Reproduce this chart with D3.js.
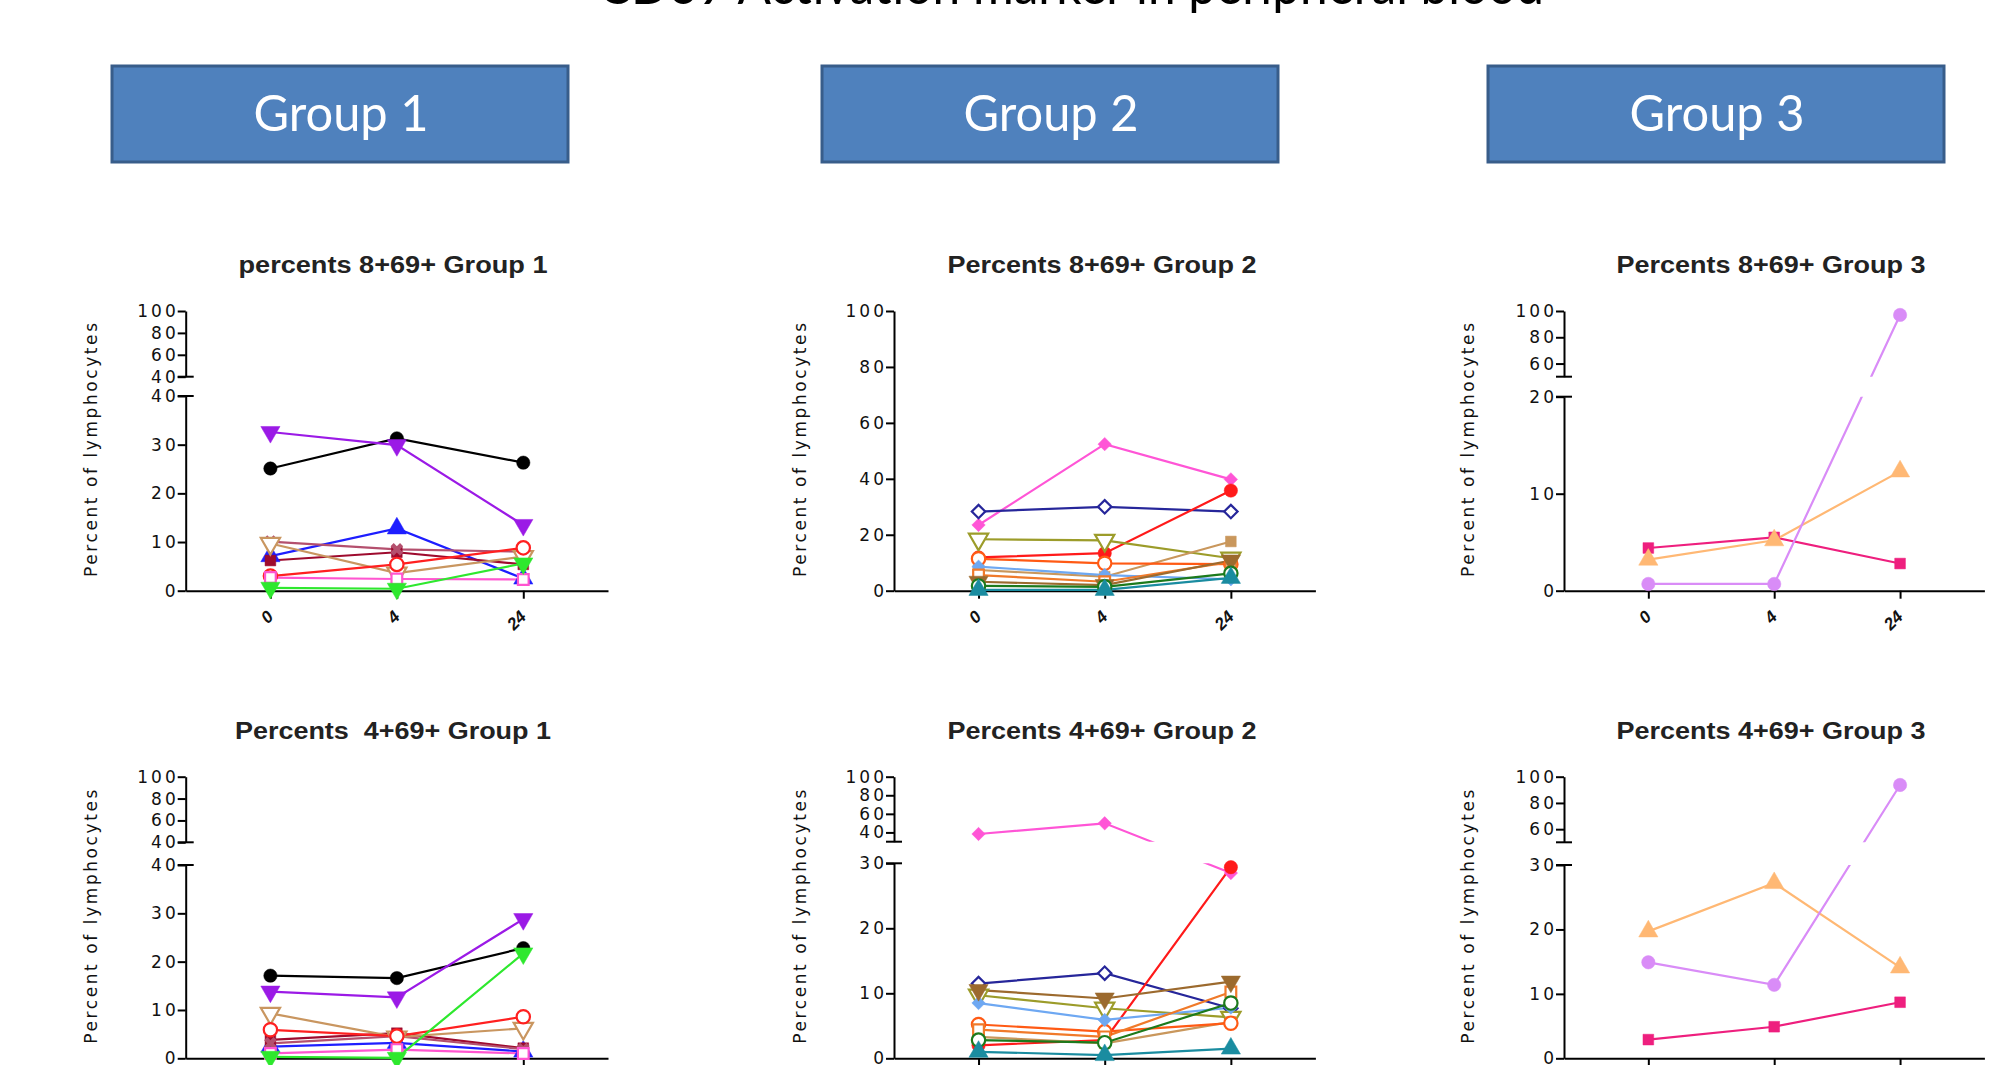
<!DOCTYPE html>
<html><head><meta charset="utf-8">
<script src="https://cdn.jsdelivr.net/npm/d3@7"></script>
<style>body{margin:0;background:#fff;overflow:hidden} svg{display:block}</style>
</head><body><svg id="c" width="1989" height="1065"></svg>
<script>
// ---------------- DATA ----------------
const mainTitle = "CD69 Activation marker in peripheral blood";
const groupNames = ["Group 1", "Group 2", "Group 3"];
const panelTitles = [
  ["percents 8+69+ Group 1", "Percents 8+69+ Group 2", "Percents 8+69+ Group 3"],
  ["Percents  4+69+ Group 1", "Percents 4+69+ Group 2", "Percents 4+69+ Group 3"]
];
const yLabel = "Percent of lymphocytes";
const timepoints = ["0", "4", "24"];

const g1Series = ["black", "purple", "blue", "maroon", "rose", "tan", "red", "pink", "green"];
const g2Series = ["magenta", "navy", "red", "olive", "tan", "orangeRed", "cornflower", "orange", "brown", "green", "teal"];
const g3Series = ["pinkSq", "orangeTri", "violet"];

// CD8+CD69+ (top row)
const cd8G1 = [
  [25.1, 31.3, 26.3], [32.6, 29.9, 13.5], [7.1, 12.8, 2.5], [6.2, 7.9, 5.4], [10.1, 8.5, 8.0],
  [9.7, 3.6, 7.0], [3.0, 5.4, 8.8], [2.7, 2.4, 2.3], [0.6, 0.4, 5.6]
];
const cd8G2 = [
  [23.5, 52.4, 39.8], [28.3, 30.0, 28.3], [11.9, 13.4, 35.8], [18.4, 18.0, 11.6], [7.4, 5.0, 17.6],
  [11.4, 9.8, 9.5], [8.6, 5.6, 4.1], [5.6, 3.2, 10.3], [3.2, 2.0, 10.8], [1.7, 1.4, 6.2], [0.3, 0.3, 4.6]
];
const cd8G3 = [[4.4, 5.5, 2.8], [3.2, 5.2, 12.3], [0.7, 0.7, 97]];

// CD4+CD69+ (bottom row)
const cd4G1 = [
  [17.1, 16.6, 22.8], [13.8, 12.6, 28.8], [2.4, 3.2, 1.4], [3.8, 5.2, 2.1], [3.1, 4.6, 1.9],
  [9.3, 4.4, 6.2], [5.9, 4.6, 8.6], [1.0, 1.8, 1.0], [0.3, 0.1, 21.7]
];
const cd4G2 = [
  [38.3, 49.8, 28.5], [11.5, 13.1, 7.7], [2.0, 2.8, 29.4], [9.7, 7.7, 6.3], [3.3, 2.3, 5.6],
  [5.2, 4.1, 5.4], [8.5, 5.9, 7.8], [4.4, 3.3, 10.2], [10.5, 9.2, 11.8], [2.8, 2.4, 8.5], [1.0, 0.5, 1.5]
];
const cd4G3 = [[2.9, 4.9, 8.7], [19.7, 27.2, 14.1], [14.9, 11.4, 93.7]];

// axis domains (broken axes: lower and upper segments) and tick values
const p1Lower = [0, 40], p1Upper = [40, 100], p1LoTicks = [0, 10, 20, 30, 40], p1UpTicks = [40, 60, 80, 100];
const p2Lower = [0, 100], p2LoTicks = [0, 20, 40, 60, 80, 100];
const p3Lower = [0, 20], p3Upper = [50, 100], p3LoTicks = [0, 10, 20], p3UpTicks = [60, 80, 100];
const p4Lower = [0, 40], p4Upper = [40, 100], p4LoTicks = [0, 10, 20, 30, 40], p4UpTicks = [40, 60, 80, 100];
const p5Lower = [0, 30], p5Upper = [30, 100], p5LoTicks = [0, 10, 20, 30], p5UpTicks = [40, 60, 80, 100];
const p6Lower = [0, 30], p6Upper = [50, 100], p6LoTicks = [0, 10, 20, 30], p6UpTicks = [60, 80, 100];

// ---------------- STYLES ----------------
const seriesStyle = {
  black: {c: "#000000", m: "circle", open: false},
  purple: {c: "#9b1ae6", m: "triDown", open: false},
  blue: {c: "#1e1eff", m: "triUp", open: false},
  maroon: {c: "#9e0b2e", m: "square", open: false},
  rose: {c: "#b4506e", m: "cross", open: false},
  tan: {c: "#c99660", m: "triDown", open: true},
  red: {c: "#ff2020", m: "circle", open: true},
  pink: {c: "#ff55d0", m: "square", open: true},
  green: {c: "#2ee82e", m: "triDown", open: false},
  magenta: {c: "#ff55d6", m: "diamond", open: false},
  navy: {c: "#26269a", m: "diamond", open: true},
  red2: {c: "#ff1a1a", m: "circle", open: false},
  olive: {c: "#9c9c2a", m: "triDown", open: true},
  tan2: {c: "#c9975c", m: "square", open: false},
  orangeRed: {c: "#ff5a14", m: "circle", open: true},
  cornflower: {c: "#6ea8f2", m: "diamond", open: false},
  orange: {c: "#f07a2a", m: "square", open: true},
  brown: {c: "#9c6a2e", m: "triDown", open: false},
  green2: {c: "#1c7a1c", m: "circle", open: true},
  teal: {c: "#1a8ca0", m: "triUp", open: false},
  pinkSq: {c: "#ee1f7e", m: "square", open: false},
  orangeTri: {c: "#ffb874", m: "triUp", open: false},
  violet: {c: "#d98cf7", m: "circle", open: false}
};
function styleFor(group, name) {
  if (group === 2 && ["red", "tan", "green"].includes(name)) return seriesStyle[name + "2"];
  return seriesStyle[name];
}

// ---------------- LAYOUT ----------------
const W = 1989, H = 1065;
const colX = [185.7, 894, 1564];
const colEnd = [608, 1315.4, 1984.4];
const rowY0 = [590.7, 1058.3];
const rowTop = [311, 776.7];
const labelX = [97, 806, 1474];
const labelY = [450, 916.7];
const titleX = [393, 1102, 1771];
const titleY = [273, 739];
const titleW = [[309, 309, 309], [316, 309, 309]];

const panels = [
  {r: 0, c: 0, g: 1, data: cd8G1, series: g1Series, lower: p1Lower, upper: p1Upper, loTicks: p1LoTicks, upTicks: p1UpTicks, upBot: 376.7, loTop: 396},
  {r: 0, c: 1, g: 2, data: cd8G2, series: g2Series, lower: p2Lower, upper: null, loTicks: p2LoTicks, upTicks: null, upBot: null, loTop: 311},
  {r: 0, c: 2, g: 3, data: cd8G3, series: g3Series, lower: p3Lower, upper: p3Upper, loTicks: p3LoTicks, upTicks: p3UpTicks, upBot: 376.7, loTop: 396.7},
  {r: 1, c: 0, g: 1, data: cd4G1, series: g1Series, lower: p4Lower, upper: p4Upper, loTicks: p4LoTicks, upTicks: p4UpTicks, upBot: 842.3, loTop: 865},
  {r: 1, c: 1, g: 2, data: cd4G2, series: g2Series, lower: p5Lower, upper: p5Upper, loTicks: p5LoTicks, upTicks: p5UpTicks, upBot: 841.7, loTop: 863.3},
  {r: 1, c: 2, g: 3, data: cd4G3, series: g3Series, lower: p6Lower, upper: p6Upper, loTicks: p6LoTicks, upTicks: p6UpTicks, upBot: 842.3, loTop: 865}
];

const svg = d3.select("#c");
svg.append("rect").attr("width", W).attr("height", H).attr("fill", "#fff");

// main title (cropped at top in the reference)
svg.append("text")
  .attr("x", 1071).attr("y", 4)
  .attr("text-anchor", "middle")
  .attr("textLength", 946).attr("lengthAdjust", "spacingAndGlyphs")
  .style("font-family", "Lato, 'Open Sans', sans-serif")
  .style("font-size", "54px").attr("fill", "#000")
  .text(mainTitle);

// group header boxes
const boxX = [112, 822, 1488];
groupNames.forEach((name, i) => {
  svg.append("rect")
    .attr("x", boxX[i]).attr("y", 66).attr("width", 456).attr("height", 96)
    .attr("fill", "#4f81bd").attr("stroke", "#385d8a").attr("stroke-width", 3);
  svg.append("text")
    .attr("x", boxX[i] + 229).attr("y", 131)
    .attr("text-anchor", "middle")
    .attr("textLength", 175).attr("lengthAdjust", "spacingAndGlyphs")
    .style("font-family", "Lato, 'Open Sans', sans-serif")
    .style("font-size", "50px").attr("fill", "#ffffff")
    .text(name);
});

function symbolPath(m) {
  const sizes = {circle: 140, square: 115, triUp: 160, triDown: 160, diamond: 90, cross: 100};
  const types = {circle: d3.symbolCircle, square: d3.symbolSquare, triUp: d3.symbolTriangle, triDown: d3.symbolTriangle, diamond: d3.symbolSquare, cross: d3.symbolCross};
  return d3.symbol().type(types[m]).size(sizes[m])();
}
function symbolRot(m) { return m === "triDown" ? 180 : (m === "diamond" ? 45 : (m === "cross" ? 45 : 0)); }

function styleAxis(sel) {
  sel.select(".domain").attr("stroke", "#000").attr("stroke-width", 2);
  sel.selectAll(".tick line").attr("stroke", "#000").attr("stroke-width", 2);
  sel.selectAll(".tick text")
    .style("font-family", "'DejaVu Sans', sans-serif")
    .style("font-size", "17px").style("letter-spacing", "3px").attr("fill", "#111");
}

panels.forEach((p, pi) => {
  const g = svg.append("g");
  const x0 = colX[p.c], x1 = colEnd[p.c];
  const y0 = rowY0[p.r], yTop = rowTop[p.r];
  const x = d3.scalePoint().domain(timepoints).range([x0, x1]).padding(0.67);
  const lo = d3.scaleLinear().domain(p.lower).range([y0, p.loTop]);
  const up = p.upper ? d3.scaleLinear().domain(p.upper).range([p.upBot, yTop]) : null;
  const y = v => (up && v > p.lower[1]) ? up(v) : lo(v);

  // title
  g.append("text")
    .attr("x", titleX[p.c]).attr("y", titleY[p.r])
    .attr("text-anchor", "middle")
    .attr("textLength", titleW[p.r][p.c]).attr("lengthAdjust", "spacingAndGlyphs")
    .style("font-family", "'Liberation Sans', Arial, sans-serif")
    .style("font-weight", "bold").style("font-size", "23px")
    .style("white-space", "pre")
    .attr("fill", "#222")
    .text(panelTitles[p.r][p.c]);

  // y label
  g.append("text")
    .attr("transform", `translate(${labelX[p.c]},${labelY[p.r]}) rotate(-90)`)
    .attr("text-anchor", "middle")
    .attr("textLength", 254).attr("lengthAdjust", "spacing")
    .style("font-family", "'DejaVu Sans', sans-serif")
    .style("font-size", "17px").attr("fill", "#111")
    .text(yLabel);

  // y axes
  const ay = g.append("g").attr("transform", `translate(${x0},0)`)
    .call(d3.axisLeft(lo).tickValues(p.loTicks).tickSize(8).tickSizeOuter(0).tickPadding(-1).tickFormat(d3.format("d")));
  styleAxis(ay);
  if (up) {
    const au = g.append("g").attr("transform", `translate(${x0},0)`)
      .call(d3.axisLeft(up).tickValues(p.upTicks).tickSize(8).tickSizeOuter(0).tickPadding(-1).tickFormat(d3.format("d")));
    styleAxis(au);
    [p.upBot, p.loTop].forEach(yy => {
      g.append("line").attr("x1", x0 - 8).attr("x2", x0 + 8).attr("y1", yy).attr("y2", yy)
        .attr("stroke", "#000").attr("stroke-width", 2);
    });
  }

  // x axis
  const ax = g.append("g").attr("transform", `translate(0,${y0})`)
    .call(d3.axisBottom(x).tickSize(8).tickSizeOuter(0).tickFormat(""));
  styleAxis(ax);
  if (p.r === 0) {
    timepoints.forEach(t => {
      g.append("text")
        .attr("transform", `translate(${x(t) + 4},${y0 + 27}) rotate(-45)`)
        .attr("text-anchor", "end")
        .style("font-family", "'Liberation Sans', Arial, sans-serif")
        .style("font-weight", "bold").style("font-style", "italic").style("font-size", "17px")
        .attr("fill", "#111")
        .text(t);
    });
  }

  // clip (broken axis gap)
  const cid = "clip" + pi;
  const cp = svg.append("clipPath").attr("id", cid);
  if (up) {
    cp.append("rect").attr("x", x0).attr("y", yTop - 20).attr("width", x1 - x0 + 20).attr("height", p.upBot - yTop + 20);
    cp.append("rect").attr("x", x0).attr("y", p.loTop).attr("width", x1 - x0 + 20).attr("height", y0 - p.loTop + 6);
  } else {
    cp.append("rect").attr("x", x0).attr("y", yTop - 20).attr("width", x1 - x0 + 20).attr("height", y0 - yTop + 26);
  }

  const line = d3.line().x((d, i) => x(timepoints[i])).y(d => y(d));
  const lines = g.append("g").attr("clip-path", `url(#${cid})`);
  p.series.forEach((name, si) => {
    const st = styleFor(p.g, name);
    lines.append("path").datum(p.data[si])
      .attr("d", line).attr("fill", "none")
      .attr("stroke", st.c).attr("stroke-width", 2.2);
  });
  p.series.forEach((name, si) => {
    const st = styleFor(p.g, name);
    g.append("g").selectAll("path").data(p.data[si]).join("path")
      .attr("d", symbolPath(st.m))
      .attr("transform", (d, i) => `translate(${x(timepoints[i])},${y(d)}) rotate(${symbolRot(st.m)})`)
      .attr("fill", st.open ? "#fff" : st.c)
      .attr("stroke", st.c)
      .attr("stroke-width", st.open ? 2.2 : (st.m === "cross" ? 0 : 0.5));
  });
});
</script>
</body></html>
